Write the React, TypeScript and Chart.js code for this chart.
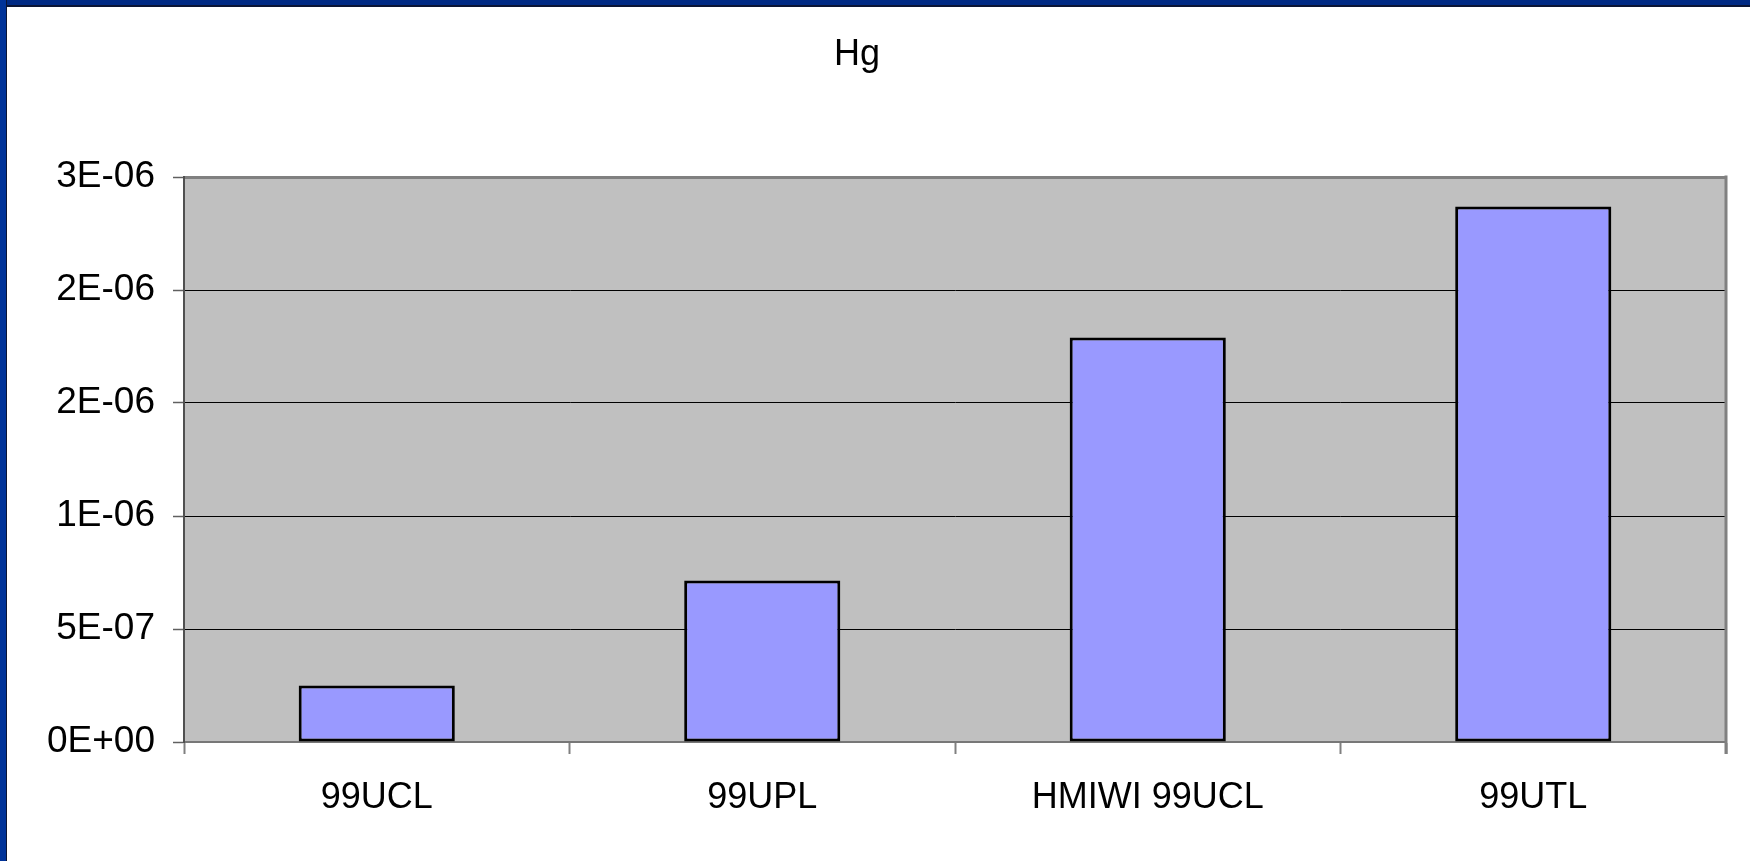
import React, { useEffect, useRef } from "react";
import { Chart, registerables } from "chart.js";

Chart.register(...registerables);

const categories = ["99UCL", "99UPL", "HMIWI 99UCL", "99UTL"];
const hgValues = [2.5e-7, 7.15e-7, 1.79e-6, 2.37e-6];
const yTickLabels = ["0E+00", "5E-07", "1E-06", "2E-06", "2E-06", "3E-06"];
const yMin = 0;
const yMax = 2.5e-6;
const yStep = 5e-7;
const chartTitle = "Hg";

const FONT = "'Liberation Sans', Arial, Helvetica, sans-serif";

const plotFrame = {
  id: "plotFrame",
  beforeDraw(chart: any) {
    const { ctx, chartArea } = chart;
    ctx.save();
    ctx.fillStyle = "#C0C0C0";
    ctx.fillRect(chartArea.left, chartArea.top, chartArea.right - chartArea.left, chartArea.bottom - chartArea.top);
    ctx.restore();
  },
  beforeDatasetsDraw(chart: any) {
    const { ctx, chartArea } = chart;
    ctx.save();
    ctx.strokeStyle = "#808080";
    ctx.lineWidth = 3;
    ctx.beginPath();
    ctx.moveTo(chartArea.right, chartArea.top - 1.5);
    ctx.lineTo(chartArea.right, chartArea.bottom + 12);
    ctx.stroke();
    ctx.restore();
  },
};

export default function App() {
  const ref = useRef<HTMLCanvasElement>(null);

  useEffect(() => {
    if (!ref.current) return;
    const chart = new Chart(ref.current, {
      type: "bar",
      data: {
        labels: categories,
        datasets: [
          {
            label: chartTitle,
            data: hgValues,
            backgroundColor: "#9999FF",
            borderColor: "#000000",
            borderWidth: 3,
            borderSkipped: false,
            categoryPercentage: 1,
            barPercentage: 0.405,
          },
        ],
      },
      options: {
        responsive: false,
        animation: false,
        layout: { padding: { left: 0, right: 10, top: 0, bottom: 0 } },
        plugins: {
          legend: { display: false },
          tooltip: { enabled: false },
          title: {
            display: true,
            text: chartTitle,
            color: "#000",
            font: { family: FONT, size: 36, weight: "normal" },
            padding: { top: 33, bottom: 100.8 },
          },
        },
        scales: {
          x: {
            offset: true,
            afterFit: (s: any) => {
              s.height = 119;
            },
            grid: {
              drawOnChartArea: false,
              offset: true,
              tickLength: 12,
              tickColor: "#808080",
              tickWidth: 2,
            },
            border: { color: "#777777", width: 2 },
            ticks: {
              color: "#000",
              padding: 22,
              font: { family: FONT, size: 36 },
              maxRotation: 0,
            },
          },
          y: {
            min: yMin,
            max: yMax,
            afterFit: (s: any) => {
              s.width = 196;
            },
            grid: {
              color: (c: any) => {
                const n = yTickLabels.length - 1;
                if (c.index === 0) return "rgba(0,0,0,0)";
                if (c.index === n) return "#808080";
                return "#000000";
              },
              lineWidth: (c: any) => (c.index === yTickLabels.length - 1 ? 3 : 1),
              tickLength: 11,
              tickColor: "#606060",
              tickWidth: 1.5,
            },
            border: { color: "#505050", width: 2 },
            ticks: {
              stepSize: yStep,
              color: "#000",
              padding: 18,
              font: { family: FONT, size: 37 },
              callback: (_v: any, i: number) => yTickLabels[i] ?? "",
            },
          },
        },
      },
      plugins: [plotFrame],
    });
    return () => chart.destroy();
  }, []);

  return (
    <div
      style={{
        position: "fixed",
        left: 0,
        top: 0,
        width: 1750,
        height: 861,
        background: "#ffffff",
        overflow: "hidden",
      }}
    >
      <canvas
        ref={ref}
        width={1748}
        height={861}
        style={{ position: "absolute", left: -12, top: 0, width: 1748, height: 861 }}
      />
      <div
        style={{
          position: "absolute",
          left: 0,
          top: 0,
          width: 1750,
          height: 5,
          background: "#002a84",
          borderBottom: "2px solid #0b1535",
        }}
      />
      <div
        style={{
          position: "absolute",
          left: 0,
          top: 0,
          width: 6,
          height: 861,
          background: "#003399",
          borderRight: "1.5px solid #0b1535",
        }}
      />
    </div>
  );
}
